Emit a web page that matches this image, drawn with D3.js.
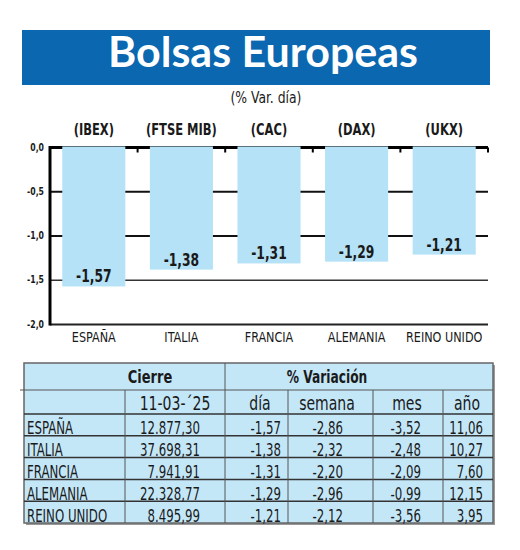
<!DOCTYPE html>
<html>
<head>
<meta charset="utf-8">
<script src="https://cdn.jsdelivr.net/npm/d3@7"></script>
<style>
  body { margin: 0; background: #fff; }
  svg text { font-family: "DejaVu Sans Condensed", "DejaVu Sans", sans-serif; fill: #1a1a1a; }
</style>
</head>
<body>
<svg id="chart" width="520" height="550"></svg>
<script>
// chart data
const countries = ["ESPAÑA", "ITALIA", "FRANCIA", "ALEMANIA", "REINO UNIDO"]
const indices = ["(IBEX)", "(FTSE MIB)", "(CAC)", "(DAX)", "(UKX)"]
const dayChange = [-1.57, -1.38, -1.31, -1.29, -1.21]
const yTicks = [0, -0.5, -1, -1.5, -2]

// table data
const closeDate = "11-03-´25"
const closeValues = [12877.30, 37698.31, 7941.91, 22328.77, 8495.99]
const weekChange = [-2.86, -2.32, -2.20, -2.96, -2.12]
const monthChange = [-3.52, -2.48, -2.09, -0.99, -3.56]
const yearChange = [11.06, 10.27, 7.60, 12.15, 3.95]

const es = d3.formatLocale({decimal: ",", thousands: ".", grouping: [3], currency: ["", ""], minus: "-"})
const fmt2 = es.format(",.2f")
const fmt1 = es.format(".1f")

// squeeze text horizontally, the original uses a condensed face
function condense(sel, k) {
  sel.each(function() {
    let w = this.getComputedTextLength()
    d3.select(this).attr("textLength", w * k).attr("lengthAdjust", "spacingAndGlyphs")
  })
}

const svg = d3.select("#chart")

// header banner
svg.append("rect")
  .attr("x", 22).attr("y", 30).attr("width", 468).attr("height", 55)
  .attr("fill", "#0a67b0")
svg.append("text")
  .attr("x", 263).attr("y", 67)
  .attr("text-anchor", "middle")
  .attr("textLength", 310).attr("lengthAdjust", "spacingAndGlyphs")
  .style("font-family", "Lato, 'Open Sans', sans-serif")
  .style("font-weight", "bold").style("font-size", "42px").style("fill", "#fff")
  .text("Bolsas Europeas")
svg.append("text")
  .attr("x", 266).attr("y", 103)
  .attr("text-anchor", "middle")
  .style("font-size", "16px")
  .text("(% Var. día)")
  .call(condense, 0.86)

// scales
let x = d3.scaleBand()
  .domain(countries)
  .range([50, 488])
  .paddingInner(0.28)
  .paddingOuter(0.14)
let y = d3.scaleLinear()
  .domain([0, -2])
  .range([147.5, 324.5])

// gridlines behind the bars
svg.append("g").attr("id", "grid")
  .selectAll("line")
  .data(yTicks.slice(1, 4)).enter()
  .append("line")
  .attr("x1", 50).attr("x2", 488)
  .attr("y1", d => y(d)).attr("y2", d => y(d))
  .attr("stroke", d => d == -1.5 ? "#333" : "#111")
  .attr("stroke-width", d => d == -1.5 ? 1.5 : 2)

// zero line with small ticks between bars
svg.append("line")
  .attr("x1", 50).attr("x2", 488)
  .attr("y1", y(0)).attr("y2", y(0))
  .attr("stroke", "#000").attr("stroke-width", 3)
svg.append("g")
  .selectAll("line")
  .data(countries).enter()
  .append("line")
  .attr("x1", d => x(d) + x.bandwidth() + x.step() * x.paddingInner() / 2)
  .attr("x2", d => x(d) + x.bandwidth() + x.step() * x.paddingInner() / 2)
  .attr("y1", y(0)).attr("y2", y(0) + 5)
  .attr("stroke", "#000").attr("stroke-width", 2)

// bars
svg.append("g").attr("id", "bars")
  .selectAll("rect")
  .data(dayChange).enter()
  .append("rect")
  .attr("x", (d, i) => x(countries[i]))
  .attr("y", y(0) - 1)
  .attr("width", x.bandwidth())
  .attr("height", d => y(d) - y(0) + 1)
  .attr("fill", "#b5e2f7")

// value labels
svg.append("g")
  .selectAll("text")
  .data(dayChange).enter()
  .append("text")
  .attr("x", (d, i) => x(countries[i]) + x.bandwidth() / 2)
  .attr("y", d => y(d) - 4)
  .attr("text-anchor", "middle")
  .style("font-weight", "bold").style("font-size", "18.5px")
  .text(d => fmt2(d))
  .call(condense, 0.74)

// index labels on top
svg.append("g")
  .selectAll("text")
  .data(indices).enter()
  .append("text")
  .attr("x", (d, i) => x(countries[i]) + x.bandwidth() / 2)
  .attr("y", 135)
  .attr("text-anchor", "middle")
  .style("font-weight", "bold").style("font-size", "16px")
  .text(d => d)
  .call(condense, 0.8)

// axes lines
svg.append("line")
  .attr("x1", 50).attr("x2", 488)
  .attr("y1", y(-2)).attr("y2", y(-2))
  .attr("stroke", "#222").attr("stroke-width", 2)
svg.append("line")
  .attr("x1", 50).attr("x2", 50)
  .attr("y1", y(0) - 1.5).attr("y2", y(-2) + 1)
  .attr("stroke", "#000").attr("stroke-width", 3)

// y tick labels
svg.append("g")
  .selectAll("text")
  .data(yTicks).enter()
  .append("text")
  .attr("x", 44)
  .attr("y", d => y(d) + 3)
  .attr("text-anchor", "end")
  .style("font-size", "10.5px").style("font-weight", "bold")
  .text(d => fmt1(d))
  .call(condense, 0.82)

// category labels
svg.append("g")
  .selectAll("text")
  .data(countries).enter()
  .append("text")
  .attr("x", d => x(d) + x.bandwidth() / 2)
  .attr("y", 342)
  .attr("text-anchor", "middle")
  .style("font-size", "14.5px")
  .text(d => d)
  .call(condense, 0.86)

// ---- table ----
let table = svg.append("g").attr("id", "table")
let tLeft = 24, tRight = 493, tTop = 363
let colEdges = [125, 225, 288, 373, 443]
let rows = d3.scaleBand().domain(countries).range([414, 523])

table.append("rect")
  .attr("x", tLeft + 2).attr("y", tTop + 2)
  .attr("width", tRight - tLeft).attr("height", 523 - tTop)
  .attr("fill", "#999")
table.append("rect")
  .attr("x", tLeft).attr("y", tTop)
  .attr("width", tRight - tLeft).attr("height", 523 - tTop)
  .attr("fill", "#c4e7f8")
  .attr("stroke", "#666").attr("stroke-width", 1.5)

// horizontal lines
table.append("line")
  .attr("x1", 20).attr("x2", tRight)
  .attr("y1", 390).attr("y2", 390)
  .attr("stroke", "#555").attr("stroke-width", 1)
table.selectAll(".rowline")
  .data(countries.slice(0, 4)).enter()
  .append("line")
  .attr("x1", tLeft).attr("x2", tRight)
  .attr("y1", d => rows(d) + rows.bandwidth()).attr("y2", d => rows(d) + rows.bandwidth())
  .attr("stroke", "#333").attr("stroke-width", 1.5)
table.append("line")
  .attr("x1", tLeft).attr("x2", tRight)
  .attr("y1", 414).attr("y2", 414)
  .attr("stroke", "#333").attr("stroke-width", 1.5)

// vertical lines
table.selectAll(".colline")
  .data(colEdges).enter()
  .append("line")
  .attr("x1", d => d).attr("x2", d => d)
  .attr("y1", d => d == 225 ? tTop : 390).attr("y2", 523)
  .attr("stroke", "#555").attr("stroke-width", 1)

// headers
table.append("text")
  .attr("x", 150).attr("y", 383)
  .attr("text-anchor", "middle")
  .style("font-weight", "bold").style("font-size", "17px")
  .text("Cierre")
  .call(condense, 0.85)
table.append("text")
  .attr("x", 327).attr("y", 383)
  .attr("text-anchor", "middle")
  .style("font-weight", "bold").style("font-size", "17px")
  .text("% Variación")
  .call(condense, 0.8)
let subHeads = [closeDate, "día", "semana", "mes", "año"]
let subCenters = [175, 260, 327, 407, 467]
table.selectAll(".sub")
  .data(subHeads).enter()
  .append("text")
  .attr("x", (d, i) => subCenters[i])
  .attr("y", 410)
  .attr("text-anchor", "middle")
  .style("font-size", "19px")
  .text(d => d)
  .call(condense, 0.82)

// body
let valueCols = [closeValues, dayChange, weekChange, monthChange, yearChange]
let rightEdges = [200, 281, 343, 421, 483]
countries.forEach((c, r) => {
  let base = rows(c) + rows.bandwidth() - 1.5
  table.append("text")
    .attr("x", 27).attr("y", base)
    .style("font-size", "17px")
    .text(c)
    .call(condense, 0.77)
  valueCols.forEach((col, k) => {
    table.append("text")
      .attr("x", rightEdges[k]).attr("y", base)
      .attr("text-anchor", "end")
      .style("font-size", "17px")
      .text(fmt2(col[r]))
      .call(condense, 0.77)
  })
})
</script>
</body>
</html>
